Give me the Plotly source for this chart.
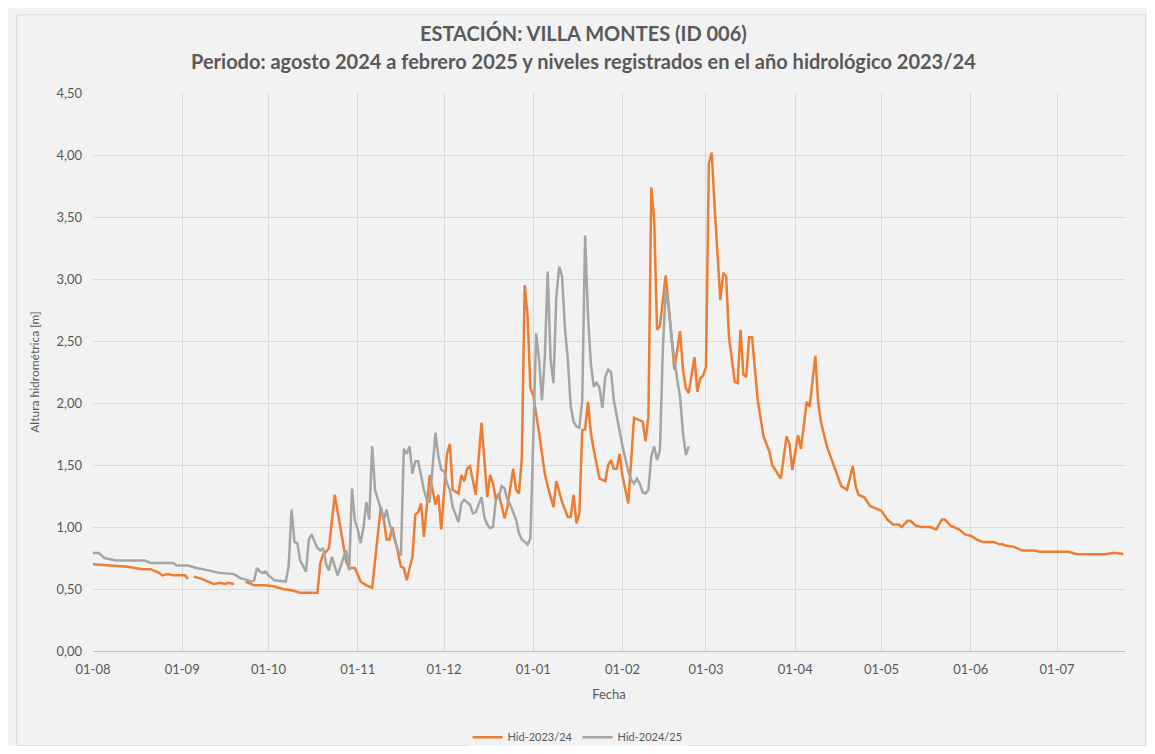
import pandas as pd
import plotly.graph_objects as go

INICIO = pd.Timestamp("2023-08-01")

# día del año hidrológico (0 = 1 de agosto) y altura [m]
dia_2324 = [0, 5, 10, 12, 17, 20, 22, 23, 24, 26, 28, 32, 33, 34, 35, 38, 40, 42, 44, 46, 47, 49, 50,
            53, 55, 56, 60, 63, 66, 69, 72, 78, 79, 80, 81, 82, 84, 86, 88, 89, 91, 93, 95, 97,
            100, 101, 102, 103, 104, 106, 107, 108, 109, 111, 112, 113, 114, 115, 117, 119, 120, 121,
            123, 124, 125, 127, 128, 129, 130, 131, 133, 135, 137, 138, 139, 140, 141, 143, 144, 146,
            147, 148, 149, 150, 151, 152, 153, 155, 157, 158, 160, 161, 163, 165, 166, 167, 168, 169,
            170, 171, 172, 173, 174, 176, 178, 179, 180, 181, 182, 183, 184, 186, 187, 188, 190, 191,
            192, 193, 194, 195, 196, 197, 199, 200, 201, 202, 204, 205, 206, 207, 209, 210, 211, 212,
            213, 214, 215, 216, 217, 218, 219, 220, 221, 223, 224, 225, 226, 227, 228, 229, 231, 233,
            235, 236, 239, 241, 242, 243, 245, 246, 248, 249, 251, 252, 253, 255, 258, 260, 262, 264,
            265, 266, 268, 270, 272, 274, 276, 278, 280, 281, 283, 284, 286, 288, 291, 293, 295, 296,
            298, 301, 303, 305, 307, 309, 313, 315, 316, 317, 320, 323, 327, 329, 339, 342, 352, 354,
            356, 358]
hid_2324 = [0.70, 0.69, 0.68, 0.68, 0.66, 0.66, 0.64, 0.63, 0.61, 0.62, 0.61, 0.61, 0.58, None, 0.60, 0.58, 0.56, 0.54, 0.55, 0.54, 0.55, 0.54, None,
            0.56, 0.54, 0.53, 0.53, 0.52, 0.50, 0.49, 0.47, 0.47, 0.71, 0.78, 0.80, 0.83, 1.26, 1.00, 0.72, 0.67, 0.67, 0.56, 0.53, 0.51,
            1.16, 1.07, 0.90, 0.90, 1.00, 0.79, 0.68, 0.67, 0.57, 0.76, 1.10, 1.12, 1.19, 0.92, 1.42, 1.18, 1.26, 0.98,
            1.59, 1.67, 1.30, 1.27, 1.42, 1.37, 1.47, 1.49, 1.26, 1.84, 1.24, 1.42, 1.35, 1.22, 1.27, 1.07, 1.16, 1.47,
            1.30, 1.27, 1.55, 2.95, 2.70, 2.12, 2.06, 1.76, 1.43, 1.33, 1.16, 1.37, 1.20, 1.08, 1.08, 1.26, 1.03, 1.11,
            1.78, 1.79, 2.01, 1.76, 1.62, 1.39, 1.37, 1.50, 1.54, 1.47, 1.47, 1.59, 1.41, 1.19, 1.57, 1.88, 1.86, 1.85,
            1.69, 1.89, 3.74, 3.48, 2.59, 2.62, 3.03, 2.80, 2.55, 2.27, 2.58, 2.27, 2.12, 2.08, 2.37, 2.09, 2.20, 2.22,
            2.29, 3.93, 4.02, 3.58, 3.20, 2.83, 3.05, 3.02, 2.53, 2.17, 2.16, 2.59, 2.23, 2.21, 2.53, 2.53, 2.02, 1.73,
            1.61, 1.50, 1.39, 1.73, 1.67, 1.46, 1.74, 1.63, 2.01, 1.97, 2.38, 2.00, 1.84, 1.65, 1.46, 1.33, 1.30, 1.49,
            1.33, 1.26, 1.24, 1.17, 1.15, 1.13, 1.06, 1.02, 1.02, 1.00, 1.05, 1.05, 1.01, 1.00, 1.00, 0.98, 1.06, 1.06,
            1.01, 0.98, 0.94, 0.93, 0.90, 0.88, 0.88, 0.86, 0.86, 0.85, 0.84, 0.81, 0.81, 0.80, 0.80, 0.78, 0.78, 0.79,
            0.79, 0.78]

dia_2425 = [0, 2, 4, 6, 8, 18, 20, 28, 29, 33, 36, 40, 44, 49, 51, 54, 55, 56, 57, 58, 59, 60, 61, 63, 66,
            67, 68, 69, 70, 71, 72, 73, 74, 75, 76, 77, 78, 79, 80, 81, 82, 83, 85, 87, 88, 89, 90, 91,
            92, 93, 94, 95, 96, 97, 98, 99, 100, 101, 102, 103, 104, 105, 106, 107, 108, 109, 110, 111,
            112, 113, 114, 115, 116, 117, 119, 120, 121, 122, 123, 124, 125, 126, 127, 128, 129, 130,
            131, 132, 133, 135, 136, 137, 138, 139, 140, 141, 142, 143, 144, 145, 146, 147, 148, 149,
            150, 151, 152, 153, 154, 155, 156, 157, 158, 159, 160, 161, 162, 163, 164, 165, 166, 167,
            168, 169, 170, 171, 172, 173, 174, 175, 176, 177, 178, 179, 180, 181, 182, 183, 184, 185,
            186, 187, 188, 189, 190, 191, 192, 193, 194, 195, 196, 197, 198, 199, 200, 201, 202, 203,
            204, 205, 206, 207]
hid_2425 = [0.79, 0.79, 0.75, 0.74, 0.73, 0.73, 0.71, 0.71, 0.69, 0.69, 0.67, 0.65, 0.63, 0.62, 0.59, 0.57, 0.56, 0.57, 0.67, 0.64, 0.63, 0.64, 0.61, 0.57, 0.56,
            0.56, 0.69, 1.14, 0.88, 0.87, 0.73, 0.68, 0.64, 0.90, 0.94, 0.88, 0.83, 0.81, 0.83, 0.70, 0.65, 0.76, 0.61, 0.75, 0.81, 0.65, 1.31, 1.05,
            0.98, 0.87, 1.00, 1.20, 1.06, 1.65, 1.30, 1.22, 1.15, 1.05, 1.14, 1.03, 0.96, 0.88, 0.81, 0.77, 1.63, 1.59, 1.65, 1.43,
            1.53, 1.53, 1.40, 1.30, 1.22, 1.20, 1.76, 1.57, 1.46, 1.45, 1.35, 1.30, 1.16, 1.10, 1.04, 1.19, 1.22, 1.20,
            1.18, 1.11, 1.12, 1.24, 1.08, 1.02, 0.99, 1.00, 1.22, 1.24, 1.33, 1.31, 1.22, 1.18, 1.12, 1.06, 0.95, 0.90,
            0.88, 0.86, 0.91, 1.76, 2.56, 2.35, 2.02, 2.37, 3.06, 2.35, 2.16, 2.86, 3.10, 3.02, 2.60, 2.35, 1.97, 1.85,
            1.81, 1.80, 2.02, 3.35, 2.70, 2.32, 2.13, 2.17, 2.12, 1.96, 2.21, 2.27, 2.25, 2.02, 1.89, 1.75, 1.65, 1.55,
            1.45, 1.38, 1.35, 1.39, 1.35, 1.28, 1.27, 1.30, 1.57, 1.65, 1.54, 1.62, 2.43, 2.91, 2.78, 2.53, 2.35, 2.19,
            2.05, 1.76, 1.58, 1.65]

TITULO = "ESTACIÓN: VILLA MONTES (ID 006)"
SUBTITULO = "Periodo: agosto 2024 a febrero 2025 y niveles registrados en el año hidrológico 2023/24"

NARANJA = "#ED7D31"
GRIS = "#A5A5A5"
TEXTO = "#595959"
FUENTE = "Lato, 'Open Sans', sans-serif"


def a_fecha(dias):
    return [INICIO + pd.Timedelta(days=d) for d in dias]


fig = go.Figure()
fig.add_trace(go.Scatter(
    x=a_fecha(dia_2324), y=hid_2324,
    mode="lines",
    line=dict(color=NARANJA, width=2.5),
    name="Hid-2023/24",
))
fig.add_trace(go.Scatter(
    x=a_fecha(dia_2425), y=hid_2425,
    mode="lines",
    line=dict(color=GRIS, width=2.5),
    name="Hid-2024/25",
))

# título en dos líneas, como en el gráfico original
for texto, y in [(TITULO, 1.108), (SUBTITULO, 1.058)]:
    fig.add_annotation(
        text=f"<b>{texto}</b>",
        xref="paper", yref="paper",
        x=0.475, y=y, xanchor="center", yanchor="middle",
        showarrow=False,
        font=dict(size=20, color=TEXTO),
    )

fig.update_layout(
    width=1139,
    height=738,
    separators=",.",
    paper_bgcolor="#F2F2F2",
    plot_bgcolor="#F2F2F2",
    font=dict(family=FUENTE, size=13, color=TEXTO),
    legend=dict(
        orientation="h",
        xref="container", yref="container",
        x=0.5, xanchor="center",
        y=0.012, yanchor="middle",
        font=dict(size=11, color=TEXTO),
    ),
    margin=dict(t=85, b=95, l=85, r=22),
    shapes=[dict(
        type="rect", xref="paper", yref="paper",
        x0=-0.074, x1=1.02, y0=-0.17, y1=1.14,
        line=dict(color="#D9D9D9", width=1),
    )],
)
fig.update_xaxes(
    type="date",
    range=[INICIO, INICIO + pd.Timedelta(days=358.6)],
    tick0=INICIO, dtick="M1", tickformat="%d-%m",
    showgrid=True, gridcolor="#D9D9D9", gridwidth=1,
    showline=True, linecolor="#BFBFBF", linewidth=1,
    ticks="", zeroline=False, ticklabelstandoff=6, automargin=False,
    title=dict(text="Fecha", font=dict(size=13, color=TEXTO), standoff=14),
    tickfont=dict(size=13, color=TEXTO),
)
fig.update_yaxes(
    range=[0, 4.5], dtick=0.5, tickformat=".2f",
    showgrid=True, gridcolor="#D9D9D9", gridwidth=1,
    zeroline=False, ticks="", ticklabelstandoff=10, automargin=False,
    title=dict(text="Altura hidrométrica [m]", font=dict(size=12, color=TEXTO), standoff=14),
    tickfont=dict(size=13, color=TEXTO),
)

fig.write_html("out.html")
